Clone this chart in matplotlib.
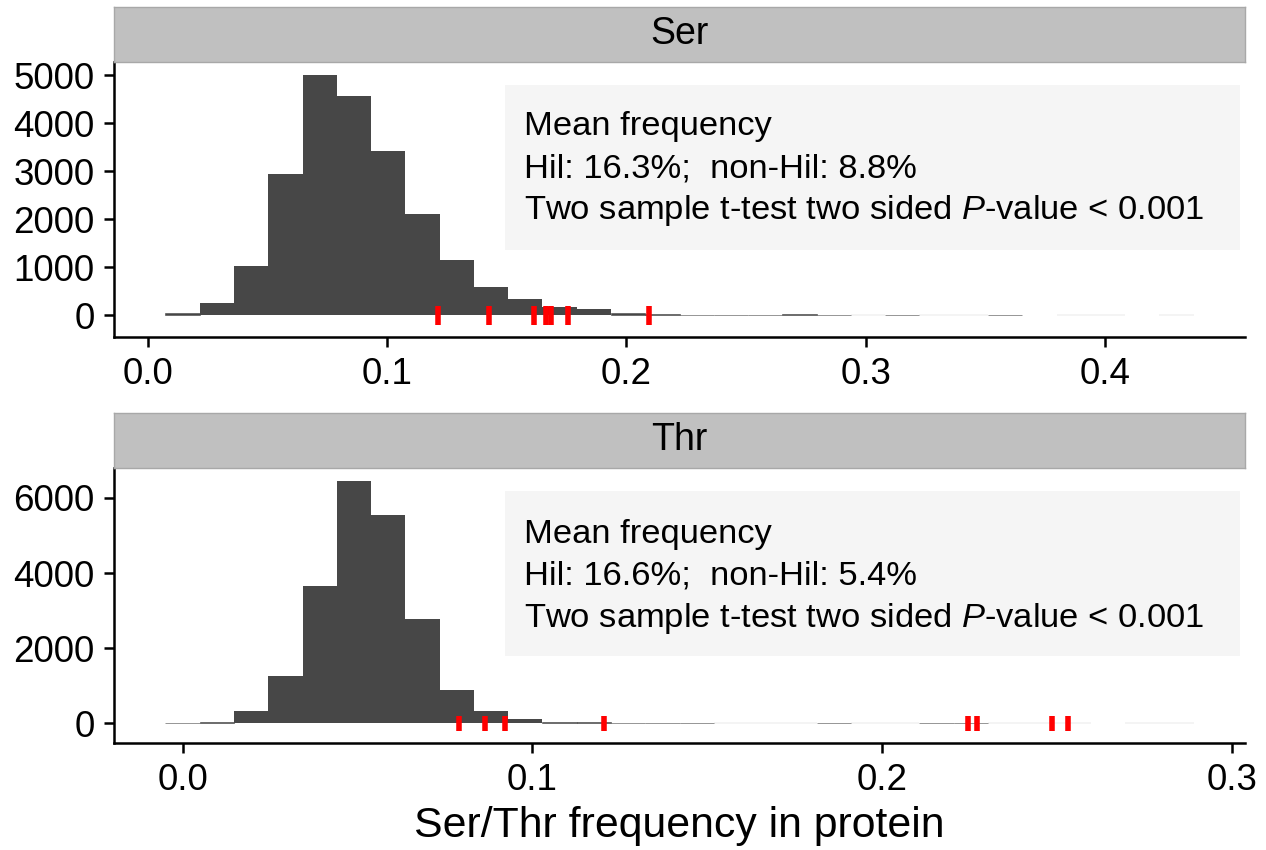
import matplotlib
matplotlib.use('Agg')
import matplotlib.pyplot as plt
import numpy as np

plt.rcParams['font.family'] = ['Liberation Sans', 'DejaVu Sans']
plt.rcParams['mathtext.fontset'] = 'custom'
plt.rcParams['mathtext.rm'] = 'Liberation Sans'
plt.rcParams['mathtext.it'] = 'Liberation Sans:italic'

# Ser panel: 30 bins (start, width) and counts
ser_bin_start = 0.0074
ser_bin_width = 0.01432
ser_counts = [50, 245, 1035, 2935, 5020, 4575, 3430, 2115, 1160, 590,
              340, 180, 120, 40, 20, 8, 6, 5, 15, 6,
              2, 6, 2, 2, 6, 0, 2, 2, 0, 2]
ser_hil = [0.1213, 0.1428, 0.1614, 0.1666, 0.1686, 0.1758, 0.2093]
ser_ticks = [0.0, 0.1, 0.2, 0.3, 0.4]
ser_yticks = [0, 1000, 2000, 3000, 4000, 5000]
ser_text = ['Mean frequency', 'Hil: 16.3%;  non-Hil: 8.8%',
            'Two sample t-test two sided $\\mathit{P}$-value < 0.001']

# Thr panel
thr_bin_start = -0.0049
thr_bin_width = 0.0098
thr_counts = [10, 43, 337, 1265, 3665, 6463, 5538, 2782, 891, 337,
              110, 27, 22, 5, 5, 5, 1, 1, 1, 5,
              1, 1, 4, 4, 2, 1, 1, 0, 1, 1]
thr_hil = [0.0791, 0.0866, 0.0921, 0.1206, 0.2246, 0.2273, 0.2485, 0.2532]
thr_ticks = [0.0, 0.1, 0.2, 0.3]
thr_yticks = [0, 2000, 4000, 6000]
thr_text = ['Mean frequency', 'Hil: 16.6%;  non-Hil: 5.4%',
            'Two sample t-test two sided $\\mathit{P}$-value < 0.001']

rug_lo, rug_hi = -200, 200

W, H = 1266, 850
fig = plt.figure(figsize=(W / 100, H / 100), dpi=100)

panels = [
    ('Ser', ser_bin_start, ser_bin_width, ser_counts, ser_hil, ser_ticks, ser_yticks, ser_text, 62, 337.3, 0.765),
    ('Thr', thr_bin_start, thr_bin_width, thr_counts, thr_hil, thr_ticks, thr_yticks, thr_text, 468, 743.3, 0.758),
]

left_px, right_px = 114, 1245
strip_h = 55

for name, b0, bw, counts, hil, xt, yt, lines, top_px, bot_px, ty in panels:
    ax = fig.add_axes([left_px / W, 1 - bot_px / H, (right_px - left_px) / W, (bot_px - top_px) / H])
    edges = b0 + bw * np.arange(len(counts) + 1)
    for x0, c in zip(edges[:-1], counts):
        if c == 0:
            continue
        if c > 60:
            ax.bar(x0, c, width=bw, align='edge', color='#474747', linewidth=0)
        else:
            # tiny bars: give them a hairline so they show like the original
            ax.bar(x0, c, width=bw, align='edge', color='#474747',
                   edgecolor='#474747', linewidth=0.4 if c > 2 else 0.25,
                   alpha=1.0 if c > 2 else 0.35)
    ax.vlines(hil, rug_lo, rug_hi, color='#FF0000', linewidth=4, zorder=4)

    span = edges[-1] - edges[0]
    ax.set_xlim(edges[0] - 0.05 * span, edges[-1] + 0.05 * span)
    yspan = max(counts) - rug_lo
    ax.set_ylim(rug_lo - 0.05 * yspan, max(counts) + 0.05 * yspan)

    ax.set_xticks(xt)
    ax.set_xticklabels([f'{v:.1f}' for v in xt])
    ax.set_yticks(yt)
    ax.set_yticklabels([str(v) for v in yt])
    ax.tick_params(labelsize=26.5, length=7, width=1.8, pad=7, colors='black')
    for s in ['top', 'right']:
        ax.spines[s].set_visible(False)
    for s in ['left', 'bottom']:
        ax.spines[s].set_linewidth(1.8)

    # annotation box
    ax.add_patch(plt.Rectangle((0.3457, 0.318), 0.65, 0.598, transform=ax.transAxes,
                               facecolor='#F5F5F5', edgecolor='none', zorder=1))
    for i, t in enumerate(lines):
        ax.text(0.3625, ty - i * 0.152, t, transform=ax.transAxes, fontsize=24.8,
                va='center', ha='left', zorder=3)

    # facet strip
    sax = fig.add_axes([left_px / W, 1 - top_px / H, (right_px - left_px) / W, strip_h / H])
    sax.set_facecolor('#C0C0C0')
    sax.set_xticks([])
    sax.set_yticks([])
    for s in sax.spines.values():
        s.set_color('#A8A8A8')
        s.set_linewidth(1)
    sax.text(0.5, 0.5, name, transform=sax.transAxes, ha='center', va='center', fontsize=27)

fig.text(679.5 / W, 1 - 826 / H, 'Ser/Thr frequency in protein', ha='center', va='center', fontsize=30.8)

plt.savefig('out.png', dpi=100)
